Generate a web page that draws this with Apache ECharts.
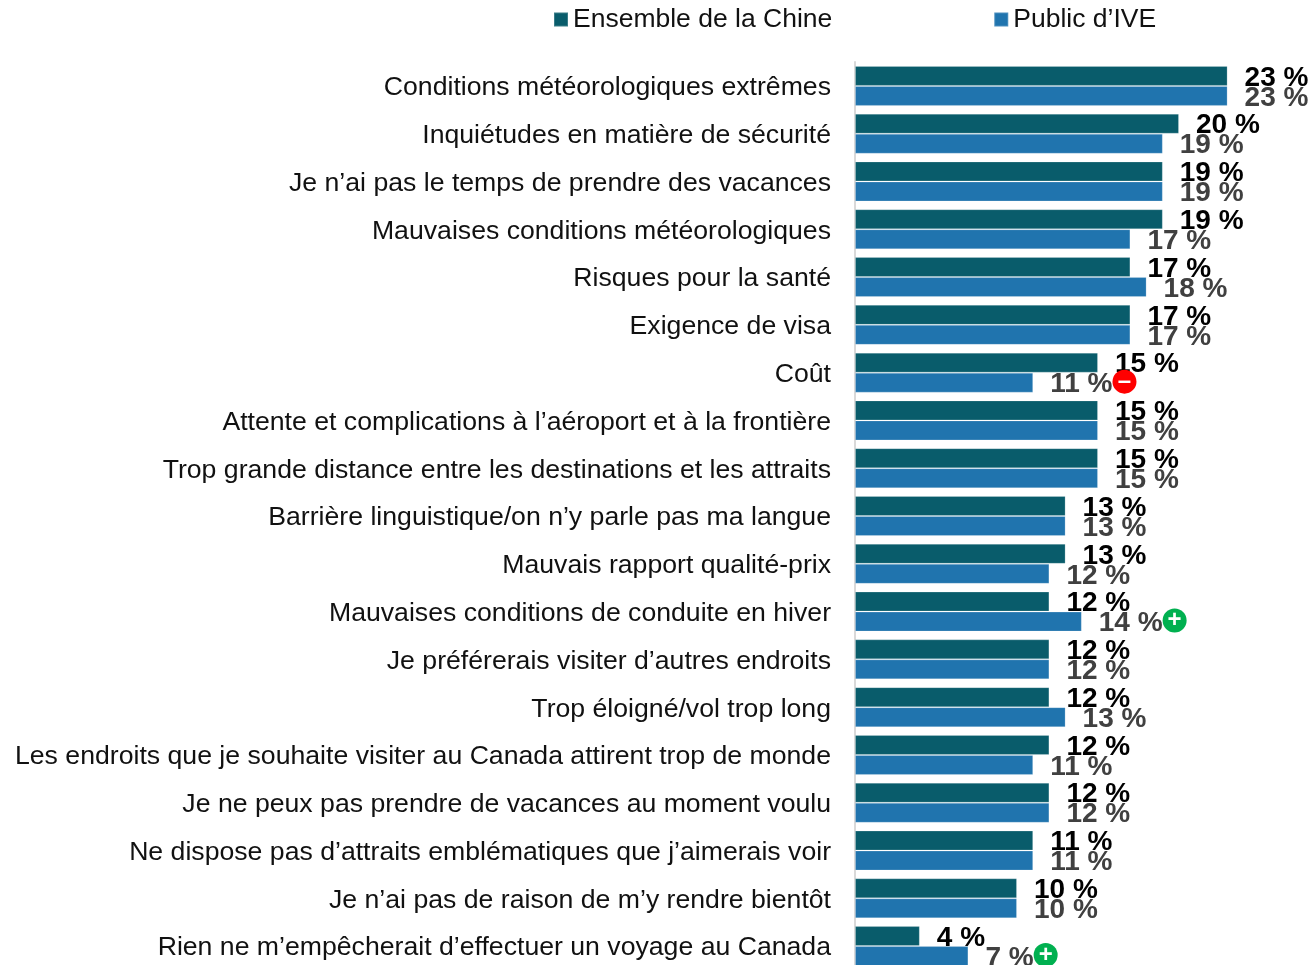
<!DOCTYPE html>
<html>
<head>
<meta charset="utf-8">
<style>
  html, body { margin: 0; padding: 0; background: #fff; overflow: hidden; }
  #graph { width: 1311px; height: 965px; }
</style>
<script src="https://cdn.jsdelivr.net/npm/echarts@6/dist/echarts.min.js"></script>
</head>
<body>
<div id="graph"></div>
<script>
var categories = [
  'Conditions météorologiques extrêmes',
  'Inquiétudes en matière de sécurité',
  'Je n’ai pas le temps de prendre des vacances',
  'Mauvaises conditions météorologiques',
  'Risques pour la santé',
  'Exigence de visa',
  'Coût',
  'Attente et complications à l’aéroport et à la frontière',
  'Trop grande distance entre les destinations et les attraits',
  'Barrière linguistique/on n’y parle pas ma langue',
  'Mauvais rapport qualité-prix',
  'Mauvaises conditions de conduite en hiver',
  'Je préférerais visiter d’autres endroits',
  'Trop éloigné/vol trop long',
  'Les endroits que je souhaite visiter au Canada attirent trop de monde',
  'Je ne peux pas prendre de vacances au moment voulu',
  'Ne dispose pas d’attraits emblématiques que j’aimerais voir',
  'Je n’ai pas de raison de m’y rendre bientôt',
  'Rien ne m’empêcherait d’effectuer un voyage au Canada'
];
var chinaValues = [23, 20, 19, 19, 17, 17, 15, 15, 15, 13, 13, 12, 12, 12, 12, 12, 11, 10, 4];
var iveValues = [23, 19, 19, 17, 18, 17, 11, 15, 15, 13, 12, 14, 12, 13, 11, 12, 11, 10, 7];
// significant differences of the IVE audience against all of China
var iveFlags = ['', '', '', '', '', '', 'minus', '', '', '', '', 'plus', '', '', '', '', '', '', 'plus'];

var font = '"Liberation Sans", Arial, sans-serif';
var chart = echarts.init(document.getElementById('graph'));

var flagStyle = function(color) {
  return {
    backgroundColor: color,
    color: '#fff',
    width: 24,
    height: 24,
    lineHeight: 24,
    borderRadius: 12,
    align: 'center',
    verticalAlign: 'top',
    fontFamily: font,
    fontSize: 24,
    fontWeight: 'bold'
  };
};

var option = {
  animation: false,
  backgroundColor: '#fff',
  legend: {
    left: 548,
    top: 1,
    itemWidth: 14,
    itemHeight: 14,
    itemGap: 161,
    icon: 'rect',
    textStyle: { fontFamily: font, fontSize: 26.5, color: '#111' }
  },
  grid: { left: 855, top: 62, width: 405, height: 908, outerBoundsMode: 'none' },
  xAxis: { type: 'value', min: 0, max: 25, interval: 5, show: false },
  yAxis: {
    type: 'category',
    inverse: true,
    data: categories,
    axisTick: { show: false },
    axisLine: { lineStyle: { color: '#d9d9d9', width: 2 } },
    axisLabel: {
      margin: 24,
      interval: 0,
      formatter: '{a|{value}}',
      rich: {
        // top padding pushes the text down to where the reference sits
        a: { padding: [4, 0, 0, 0], fontFamily: font, fontSize: 26.65, color: '#111' }
      }
    }
  },
  series: [
    {
      name: 'Ensemble de la Chine',
      type: 'bar',
      data: chinaValues,
      barWidth: 20,
      barGap: 0,
      itemStyle: { color: '#095c6b', borderColor: 'rgba(255,255,255,0.2)', borderWidth: 1 },
      label: {
        show: true,
        position: 'right',
        distance: 17,
        offset: [0, 2],
        formatter: '{c} %',
        fontFamily: font,
        fontSize: 28,
        fontWeight: 'bold',
        color: '#000'
      }
    },
    {
      name: 'Public d’IVE',
      type: 'bar',
      data: iveValues,
      barWidth: 20,
      itemStyle: { color: '#2074ae', borderColor: 'rgba(255,255,255,0.2)', borderWidth: 1 },
      label: {
        show: true,
        position: 'right',
        distance: 17,
        offset: [0, 2],
        formatter: function(p) {
          var txt = '{val|' + p.value + ' %}';
          if (iveFlags[p.dataIndex] === 'minus') txt += '{minus|–}';
          if (iveFlags[p.dataIndex] === 'plus') txt += '{plus|+}';
          return txt;
        },
        rich: {
          val: { fontFamily: font, fontSize: 28, lineHeight: 30, fontWeight: 'bold', color: '#404040' },
          minus: flagStyle('#ff0000'),
          plus: flagStyle('#00b050')
        }
      }
    }
  ]
};

chart.setOption(option);
</script>
</body>
</html>
